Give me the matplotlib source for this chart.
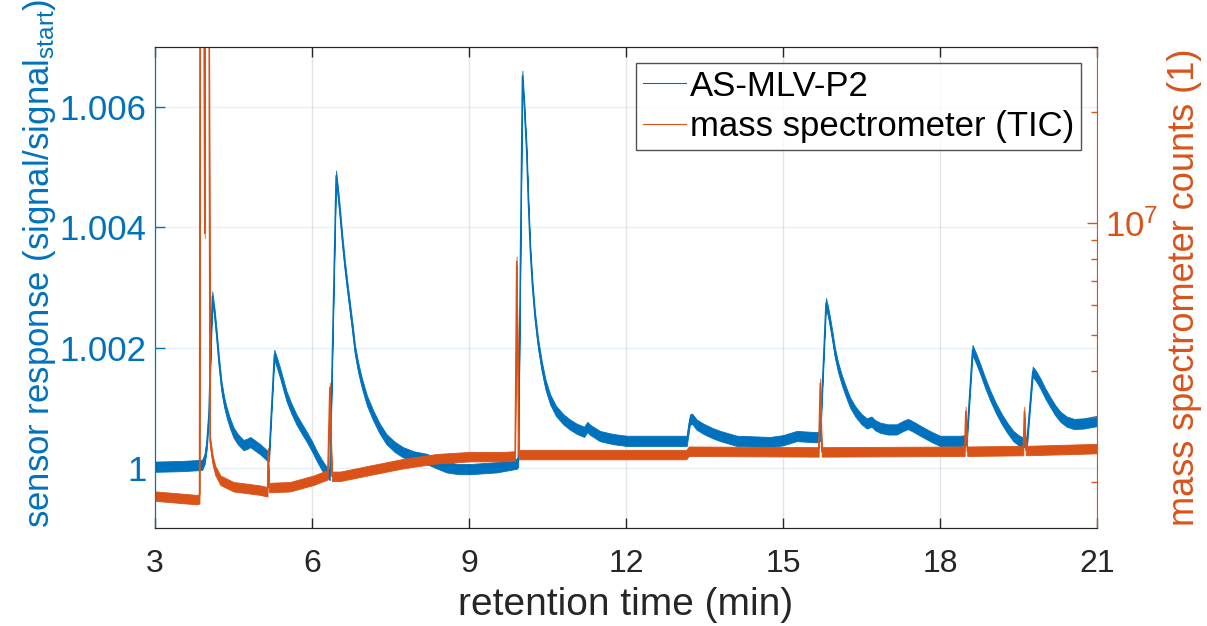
import matplotlib
matplotlib.use("Agg")
import matplotlib.pyplot as plt
from matplotlib.lines import Line2D
from matplotlib.ticker import LogLocator, LogFormatterMathtext, NullFormatter
import numpy as np

plt.rcParams['font.family'] = ['Liberation Sans', 'DejaVu Sans']
plt.rcParams['mathtext.fontset'] = 'custom'
plt.rcParams['mathtext.rm'] = 'Liberation Sans'
plt.rcParams['mathtext.it'] = 'Liberation Sans:italic'
plt.rcParams['mathtext.default'] = 'regular'

# sensor AS-MLV-P2 (signal/signal_start) (centre of the noisy trace)
sensor_t = [3.00, 3.50, 3.90, 3.95, 3.99, 4.03, 4.095,
            4.14, 4.18, 4.22, 4.27, 4.32, 4.37, 4.43, 4.50, 4.58, 4.69, 4.76, 4.82,
            4.90, 5.01, 5.10, 5.15, 5.18,
            5.28, 5.33, 5.39, 5.45, 5.51, 5.60, 5.70, 5.80, 5.89, 6.00, 6.09, 6.18,
            6.28, 6.34,
            6.46, 6.50, 6.54, 6.58, 6.63, 6.68, 6.73, 6.78, 6.82, 6.88, 6.95, 7.05,
            7.17, 7.29, 7.42, 7.58, 7.74, 7.95, 8.19, 8.40, 8.57, 8.80, 9.02, 9.53,
            9.91, 9.94,
            10.02, 10.06, 10.10, 10.13, 10.17, 10.21, 10.26, 10.32, 10.39, 10.46,
            10.55, 10.66, 10.80, 10.93, 11.06, 11.20, 11.26, 11.32, 11.50, 11.75,
            12.01, 12.78, 13.16,
            13.22, 13.26, 13.35, 13.48, 13.65, 13.80, 14.00, 14.12, 14.75, 15.00,
            15.26, 15.64, 15.71,
            15.82, 15.86, 15.90, 15.95, 15.99, 16.05, 16.12, 16.20, 16.28, 16.38,
            16.50, 16.60, 16.69, 16.76, 16.85, 17.00, 17.17, 17.30, 17.39, 17.50,
            17.68, 17.85, 18.00, 18.38, 18.51,
            18.62, 18.69, 18.77, 18.86, 18.96, 19.07, 19.18, 19.29, 19.40, 19.50,
            19.56, 19.66,
            19.77, 19.84, 19.92, 20.01, 20.11, 20.20, 20.30, 20.42, 20.56, 20.75,
            21.00]
sensor_v = [1.00002, 1.00003, 1.00005, 1.00015, 1.00040, 1.00090, 1.00285,
            1.00255, 1.00219, 1.00178, 1.00136, 1.00110, 1.00092, 1.00075, 1.00059,
            1.00048, 1.00038, 1.00040, 1.00043, 1.00038, 1.00031, 1.00024, 1.00020,
            1.00020,
            1.00188, 1.00175, 1.00158, 1.00139, 1.00120, 1.00100, 1.00081, 1.00066,
            1.00053, 1.00036, 1.00020, 1.00006, 0.99993, 0.99988,
            1.00486, 1.00455, 1.00418, 1.00378, 1.00335, 1.00298, 1.00263, 1.00228,
            1.00197, 1.00168, 1.00142, 1.00112, 1.00087, 1.00066, 1.00048, 1.00035,
            1.00026, 1.00019, 1.00015, 1.00007, 1.00001, 0.99998, 0.99998, 1.00001,
            1.00007, 1.00010,
            1.00652, 1.00595, 1.00528, 1.00450, 1.00363, 1.00305, 1.00252, 1.00207,
            1.00169, 1.00139, 1.00114, 1.00095, 1.00081, 1.00072, 1.00065, 1.00060,
            1.00068, 1.00063, 1.00053, 1.00048, 1.00045, 1.00045, 1.00045,
            1.00080, 1.00082, 1.00072, 1.00065, 1.00058, 1.00053, 1.00048, 1.00045,
            1.00043, 1.00046, 1.00053, 1.00051, 1.00053,
            1.00274, 1.00260, 1.00241, 1.00215, 1.00192, 1.00168, 1.00147, 1.00127,
            1.00109, 1.00094, 1.00081, 1.00074, 1.00077, 1.00071, 1.00067, 1.00064,
            1.00064, 1.00070, 1.00073, 1.00068, 1.00059, 1.00051, 1.00045, 1.00045,
            1.00046,
            1.00196, 1.00182, 1.00164, 1.00142, 1.00120, 1.00099, 1.00081, 1.00066,
            1.00053, 1.00046, 1.00043, 1.00043,
            1.00160, 1.00152, 1.00140, 1.00124, 1.00109, 1.00096, 1.00085, 1.00077,
            1.00073, 1.00074, 1.00078]
sensor_noise = 8.5e-5  # half width of the noise band

# mass spectrometer total ion current (counts)
ms_t = [3.00, 3.40, 3.80, 3.85, 3.86, 3.93, 3.95, 3.96, 4.03, 4.05, 4.10, 4.15, 4.25,
        4.50, 5.00, 5.15, 5.16, 5.18, 5.58, 6.03, 6.30, 6.34, 6.38, 6.54, 7.11,
        7.74, 8.38, 9.02, 9.65, 9.88, 9.91, 9.95, 13.15, 13.20, 15.68, 15.71,
        15.74, 18.47, 18.49, 18.52, 19.59, 19.61, 19.64, 21.00]
ms_v = [1.83e6, 1.81e6, 1.79e6, 1.80e6, 6e7, 6e7, 9.4e6, 6e7, 6e7, 2.59e6, 2.30e6,
        2.15e6, 2.02e6, 1.94e6, 1.90e6, 1.88e6, 2.40e6, 1.93e6, 1.94e6, 2.02e6,
        2.09e6, 3.6e6, 2.07e6, 2.07e6, 2.15e6, 2.24e6, 2.31e6, 2.34e6, 2.34e6,
        2.35e6, 7.9e6, 2.37e6, 2.37e6, 2.42e6, 2.41e6, 3.7e6, 2.41e6, 2.42e6,
        3.1e6, 2.42e6, 2.43e6, 3.1e6, 2.43e6, 2.46e6]
ms_noise = 1.03  # multiplicative half width of the noise band

x_ticks = [3, 6, 9, 12, 15, 18, 21]
y_ticks = [1.0, 1.002, 1.004, 1.006]
y_ticklabels = ['1', '1.002', '1.004', '1.006']

blue = '#0072BD'
orange = '#D95319'
dark = '#262626'

fig = plt.figure(figsize=(12.07, 6.26), dpi=100)
ax = fig.add_axes([0.1284, 0.1565, 0.7805, 0.7684])
ax2 = ax.twinx()

st = np.array(sensor_t)
sv = np.array(sensor_v)
ax.fill_between(st, sv - sensor_noise, sv + sensor_noise, color=blue, lw=0.6)
ax.plot(st, sv, color=blue, lw=1.0)

mt = np.array(ms_t)
mv = np.array(ms_v)
ax2.fill_between(mt, mv / ms_noise, mv * ms_noise, color=orange, lw=0.6)
ax2.plot(mt, mv, color=orange, lw=1.0)

ax.set_xlim(3, 21)
ax.set_ylim(0.999, 1.007)
ax2.set_yscale('log')
ax2.set_ylim(1.5e6, 3e7)

ax.set_xticks(x_ticks)
ax.set_yticks(y_ticks)
ax.set_yticklabels(y_ticklabels)
ax.tick_params(axis='x', direction='in', length=7, width=1, colors=dark,
               labelsize=23, pad=15, top=True)
ax.tick_params(axis='y', direction='in', length=7, width=1, colors=blue,
               labelsize=25, pad=6)
ax2.yaxis.set_major_locator(LogLocator(base=10))
ax2.yaxis.set_major_formatter(LogFormatterMathtext())
ax2.yaxis.set_minor_locator(LogLocator(base=10, subs=np.arange(2, 10)))
ax2.yaxis.set_minor_formatter(NullFormatter())
ax2.tick_params(axis='y', which='major', direction='in', length=7, width=1,
                colors=orange, labelsize=25, pad=6)
ax2.tick_params(axis='y', which='minor', direction='in', length=4, width=1,
                colors=orange)

ax.grid(axis='x', color=dark, alpha=0.12, lw=1)
ax.grid(axis='y', color=blue, alpha=0.1, lw=1)

for s in ['top', 'bottom']:
    ax.spines[s].set_color(dark)
ax.spines['left'].set_color(blue)
ax2.spines['left'].set_color(blue)
ax2.spines['right'].set_color(orange)
ax.spines['right'].set_visible(False)
ax2.spines['top'].set_color(dark)
ax2.spines['bottom'].set_color(dark)

ax.set_xlabel('retention time (min)', fontsize=28, color=dark, labelpad=6)
ax.set_ylabel('sensor response (signal/signal$_{start}$)', fontsize=25, color=blue)
ax.yaxis.set_label_coords(-0.103, 0.551)
ax2.set_ylabel('mass spectrometer counts (1)', fontsize=26, color=orange, labelpad=6)

handles = [Line2D([], [], color=blue, lw=0.8), Line2D([], [], color=orange, lw=0.8)]
leg = ax2.legend(handles, ['AS-MLV-P2', 'mass spectrometer (TIC)'], loc='upper right',
                 fontsize=25, frameon=True, fancybox=False, edgecolor=dark,
                 handlelength=1.25, handletextpad=0.12, borderpad=0.2,
                 labelspacing=0.22, borderaxespad=0.45)
leg.get_frame().set_linewidth(1.0)

fig.savefig('out.png', dpi=100)
